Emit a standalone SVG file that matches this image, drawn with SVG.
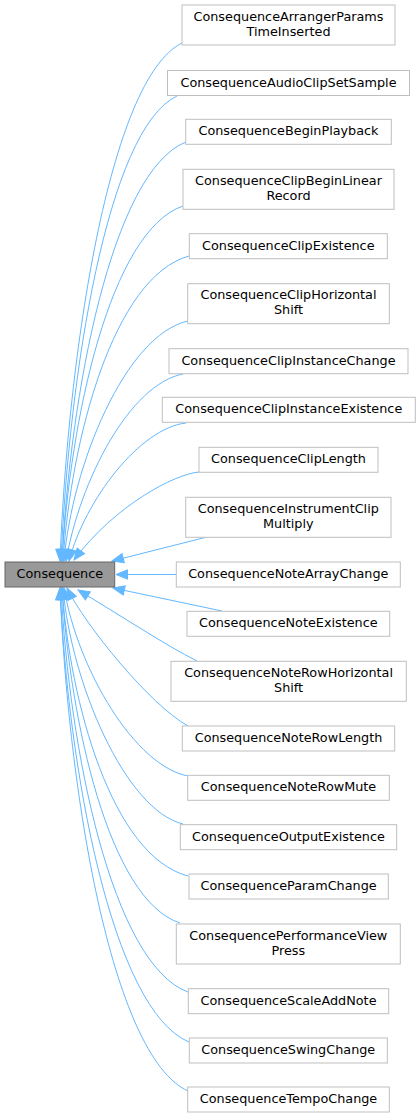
<svg xmlns="http://www.w3.org/2000/svg" width="420" height="1118" viewBox="0 0 420 1118">
<style>
.n rect{fill:#ffffff;stroke:#bfbfbf;stroke-width:1}
.n.base rect{fill:#999999;stroke:#666666}
.n text{font-family:"DejaVu Sans","Liberation Sans",sans-serif;font-size:12.8px;fill:#000000;text-anchor:middle}
#edges path{fill:none;stroke:#63b8ff;stroke-width:1;marker-end:url(#arr)}
</style>
<defs>
<marker id="arr" markerUnits="userSpaceOnUse" markerWidth="14" markerHeight="12" refX="11.5" refY="4.7" orient="auto" overflow="visible">
<path d="M0,0 L11.5,4.7 L0,9.4 Z" fill="#63b8ff" stroke="#63b8ff" stroke-width="1"/>
</marker>
</defs>
<rect x="0" y="0" width="420" height="1118" fill="#ffffff"/>
<g id="edges">
<path d="M182,43 C109,79 68,354 60,561"/>
<path d="M177,96 C107,129 69,376 61,561"/>
<path d="M186,142 C112,171 70,394 62,561"/>
<path d="M183,206 C110,231 70,420 62,561"/>
<path d="M189,256 C113,277 71,440 63,561"/>
<path d="M188,321 C125,335 72,466 64,561"/>
<path d="M183,374 C130,384 80,480 66,561"/>
<path d="M186,423 C140,428 85,500 69,561"/>
<path d="M199,472 C175,474 115,505 74,560"/>
<path d="M207,537 L112,561"/>
<path d="M176,574.5 L116,574.5"/>
<path d="M222,611 L113,588"/>
<path d="M197,661 C165,645 120,615 78,590"/>
<path d="M188,726 C150,705 85,625 67,588"/>
<path d="M188,776 C135,766 78,670 64,588"/>
<path d="M183,824 C125,810 71,682 63,588"/>
<path d="M188,876 C112,856 70,703 62,588"/>
<path d="M180,923 C109,900 70,721 62,588"/>
<path d="M188,992 C112,964 69,749 61,588"/>
<path d="M189,1042 C112,1010 68,769 60,588"/>
<path d="M188,1091 C111,1056 68,789 60,588"/>
</g>
<g id="n-consequence" class="n base"><rect x="5" y="562" width="109.7" height="25"/><text x="59.8" y="578">Consequence</text></g>
<g id="n-arranger" class="n"><rect x="182" y="5" width="213" height="40"/><text x="288.5" y="20.7">ConsequenceArrangerParams</text><text x="288.5" y="35.7">TimeInserted</text></g>
<g id="n-audioclip" class="n"><rect x="167.5" y="70.5" width="242" height="25"/><text x="288.5" y="86.5">ConsequenceAudioClipSetSample</text></g>
<g id="n-beginplayback" class="n"><rect x="185.7" y="119.3" width="205.6" height="25"/><text x="288.5" y="135.4">ConsequenceBeginPlayback</text></g>
<g id="n-clipbeginlinear" class="n"><rect x="183" y="169.3" width="211" height="40"/><text x="288.5" y="185">ConsequenceClipBeginLinear</text><text x="288.5" y="200">Record</text></g>
<g id="n-clipexistence" class="n"><rect x="189.3" y="233.7" width="198" height="25"/><text x="288.3" y="249.7">ConsequenceClipExistence</text></g>
<g id="n-cliphorizontal" class="n"><rect x="187.7" y="283.7" width="201.6" height="40"/><text x="288.5" y="299.4">ConsequenceClipHorizontal</text><text x="288.5" y="314.4">Shift</text></g>
<g id="n-clipinstancechange" class="n"><rect x="169" y="348.7" width="239" height="25"/><text x="288.5" y="364.7">ConsequenceClipInstanceChange</text></g>
<g id="n-clipinstanceexistence" class="n"><rect x="162.3" y="397.3" width="253" height="25"/><text x="288.8" y="413.3">ConsequenceClipInstanceExistence</text></g>
<g id="n-cliplength" class="n"><rect x="199" y="447.3" width="179" height="25"/><text x="288.5" y="463.3">ConsequenceClipLength</text></g>
<g id="n-instrumentclip" class="n"><rect x="185.7" y="497.3" width="205.3" height="40"/><text x="288.3" y="513">ConsequenceInstrumentClip</text><text x="288.3" y="528">Multiply</text></g>
<g id="n-notearraychange" class="n"><rect x="176.3" y="562" width="224" height="25"/><text x="288.3" y="578">ConsequenceNoteArrayChange</text></g>
<g id="n-noteexistence" class="n"><rect x="187" y="611.3" width="202.7" height="25"/><text x="288.3" y="627.3">ConsequenceNoteExistence</text></g>
<g id="n-noterowhorizontal" class="n"><rect x="171" y="661.3" width="235.3" height="40"/><text x="288.6" y="677">ConsequenceNoteRowHorizontal</text><text x="288.6" y="692">Shift</text></g>
<g id="n-noterowlength" class="n"><rect x="182.3" y="726" width="212.4" height="25"/><text x="288.5" y="742">ConsequenceNoteRowLength</text></g>
<g id="n-noterowmute" class="n"><rect x="187.7" y="775.3" width="201.6" height="25"/><text x="288.5" y="791.3">ConsequenceNoteRowMute</text></g>
<g id="n-outputexistence" class="n"><rect x="180.3" y="824.7" width="216.4" height="25"/><text x="288.5" y="840.7">ConsequenceOutputExistence</text></g>
<g id="n-paramchange" class="n"><rect x="189" y="874" width="199.3" height="25"/><text x="288.6" y="890">ConsequenceParamChange</text></g>
<g id="n-performanceview" class="n"><rect x="176.3" y="924" width="224" height="40"/><text x="288.3" y="939.7">ConsequencePerformanceView</text><text x="288.3" y="954.7">Press</text></g>
<g id="n-scaleaddnote" class="n"><rect x="188.3" y="988.7" width="200.4" height="25"/><text x="288.5" y="1004.7">ConsequenceScaleAddNote</text></g>
<g id="n-swingchange" class="n"><rect x="189.3" y="1038" width="198" height="25"/><text x="288.3" y="1054">ConsequenceSwingChange</text></g>
<g id="n-tempochange" class="n"><rect x="187.7" y="1087" width="201.6" height="25"/><text x="288.5" y="1103">ConsequenceTempoChange</text></g>
</svg>
